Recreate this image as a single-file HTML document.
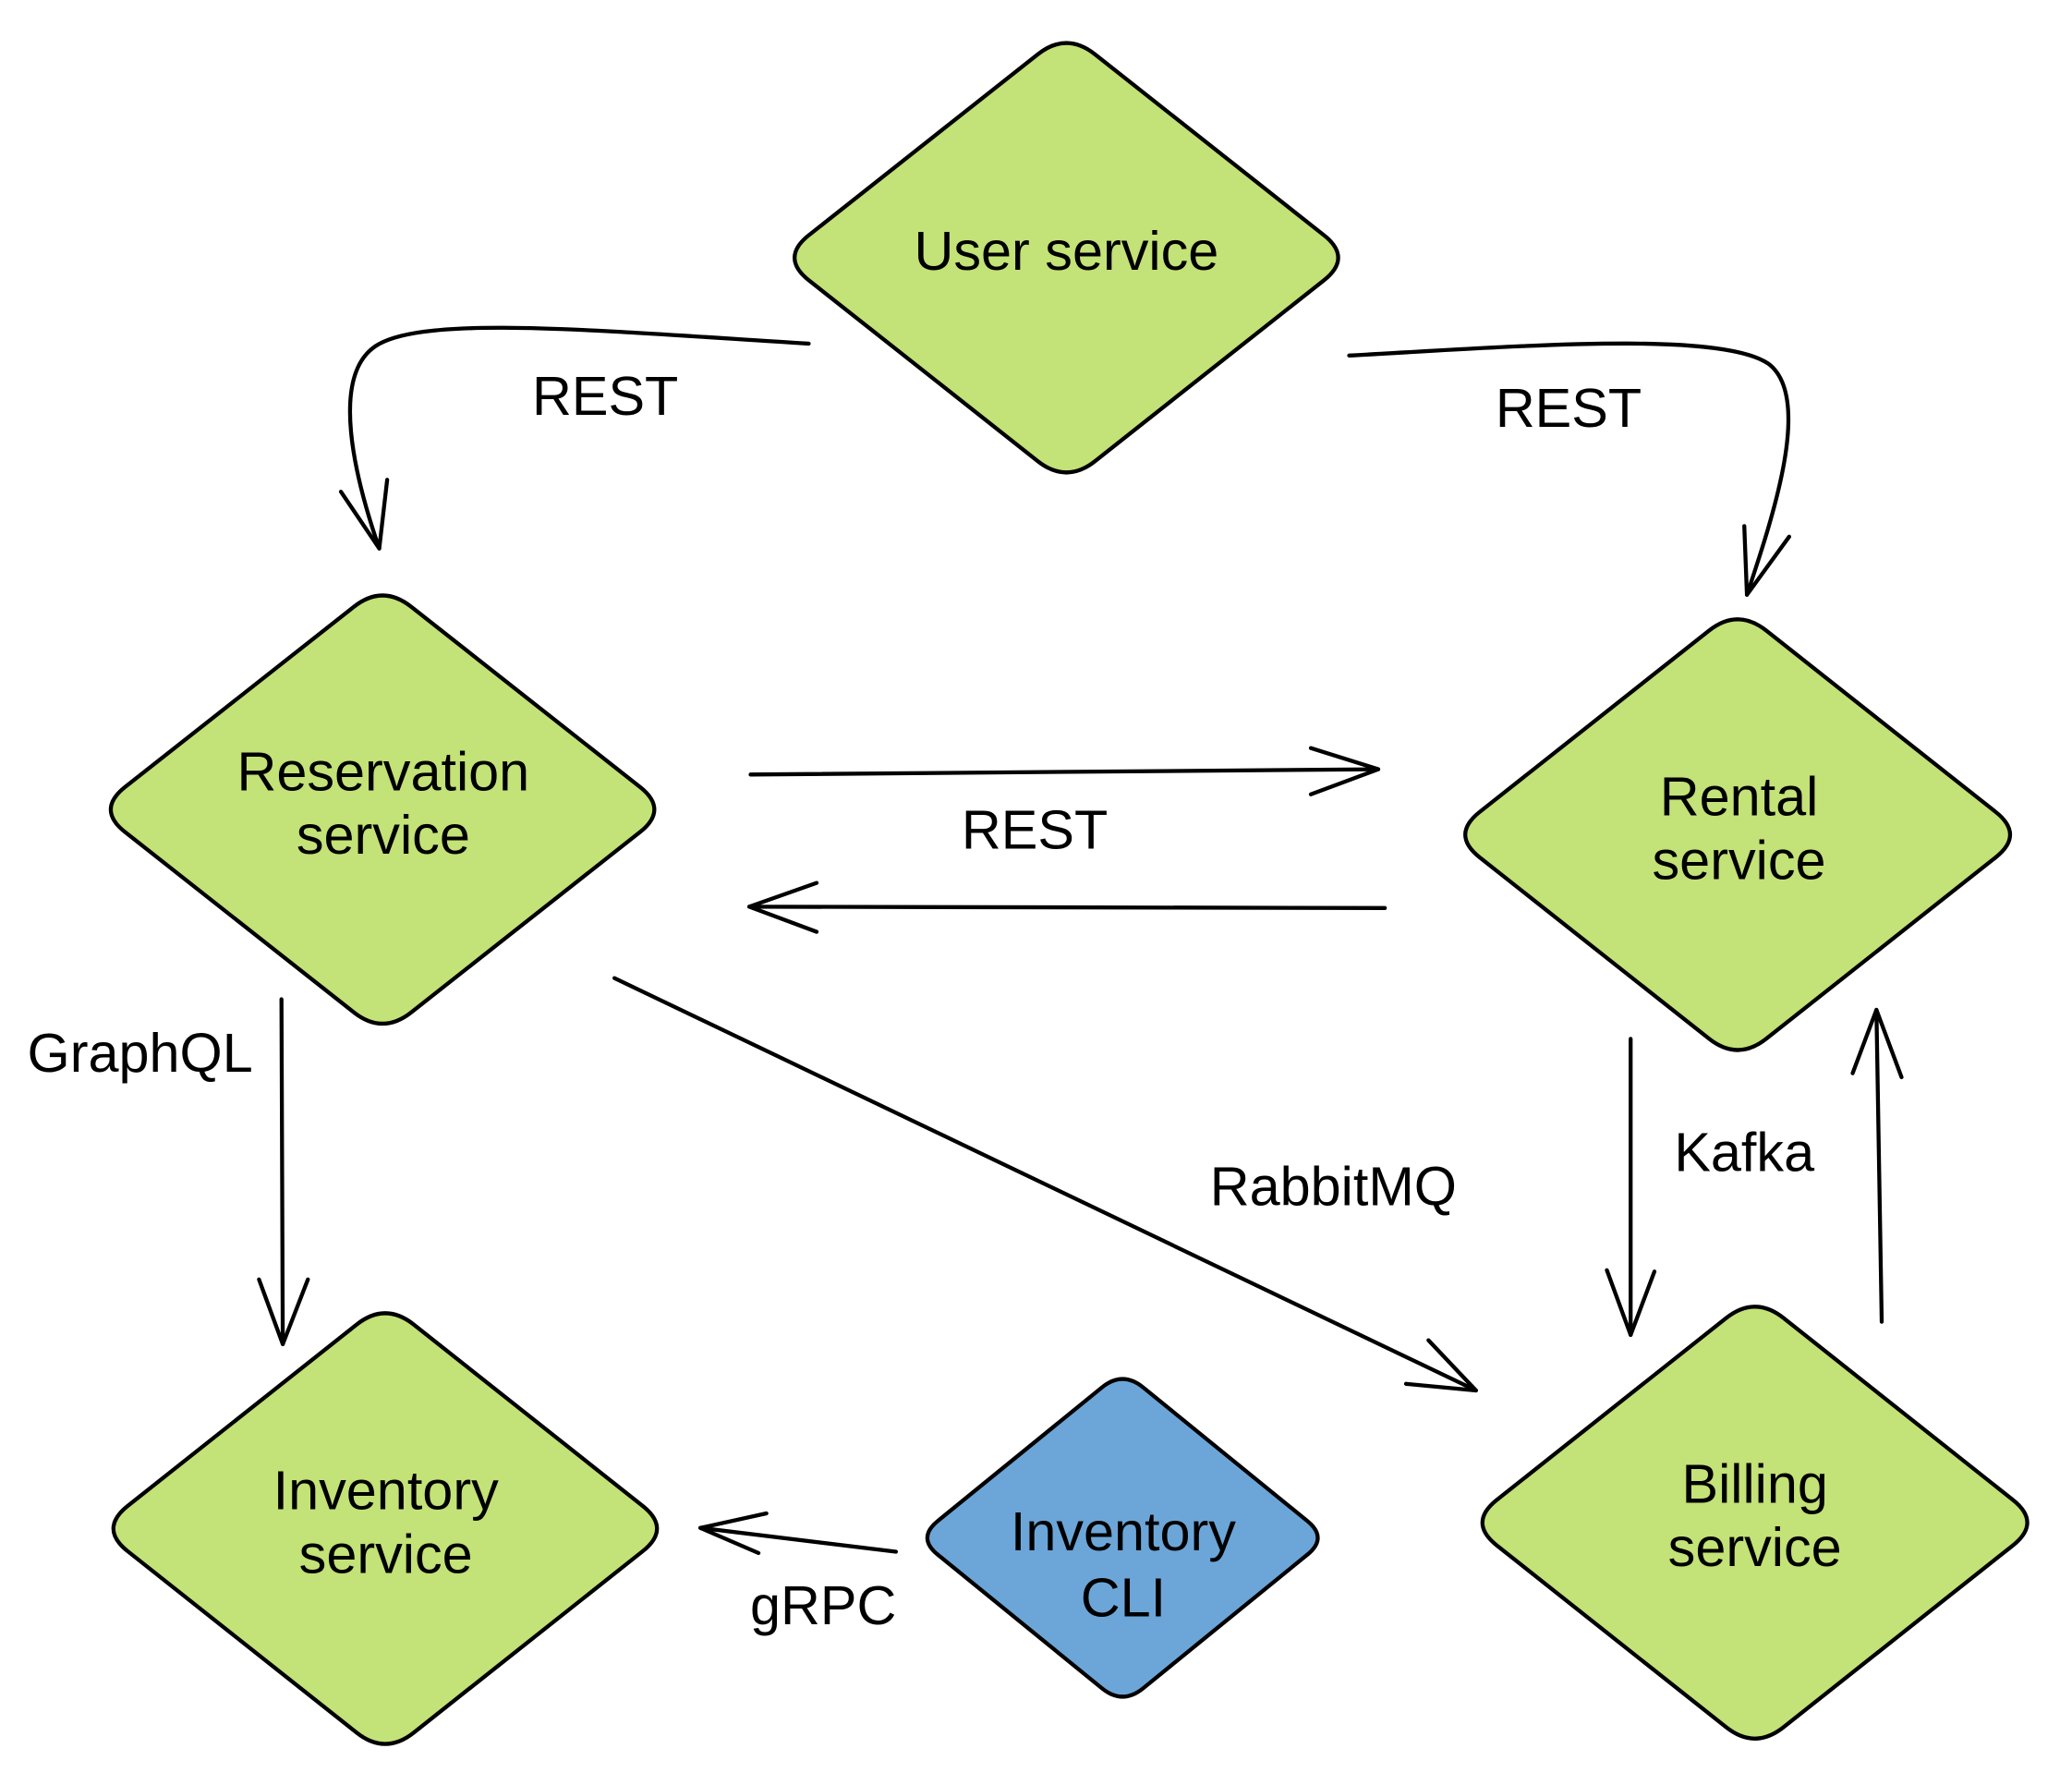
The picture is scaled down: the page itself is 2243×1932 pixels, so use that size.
<!DOCTYPE html>
<html><head><meta charset="utf-8"><style>
html,body{margin:0;padding:0;background:#fff;}
svg{display:block}
text{font-family:"Liberation Sans",sans-serif;font-size:41.5px;fill:#000;text-anchor:middle;dominant-baseline:middle}
</style></head><body>
<svg width="2243" height="1932" viewBox="0 0 1568 1350.5" preserveAspectRatio="none" xmlns="http://www.w3.org/2000/svg">
<g stroke="#000" stroke-width="3" stroke-linejoin="round" stroke-linecap="round">
<path fill="#c3e277" d="M828.65,41.1 L1001.85,177.9 Q1023.5,195 1001.85,212.1 L828.65,348.9 Q807,366 785.35,348.9 L612.15,212.1 Q590.5,195 612.15,177.9 L785.35,41.1 Q807,24 828.65,41.1Z"/>
<path fill="#c3e277" d="M311.15,459.05 L484.35,595.45 Q506,612.5 484.35,629.55 L311.15,765.95 Q289.5,783 267.85,765.95 L94.65,629.55 Q73,612.5 94.65,595.45 L267.85,459.05 Q289.5,442 311.15,459.05Z"/>
<path fill="#c3e277" d="M1336.7,477.15 L1510.3,614.35 Q1532,631.5 1510.3,648.65 L1336.7,785.85 Q1315,803 1293.3,785.85 L1119.7,648.65 Q1098,631.5 1119.7,614.35 L1293.3,477.15 Q1315,460 1336.7,477.15Z"/>
<path fill="#c3e277" d="M313.15,1002.15 L486.35,1139.35 Q508,1156.5 486.35,1173.65 L313.15,1310.85 Q291.5,1328 269.85,1310.85 L96.65,1173.65 Q75,1156.5 96.65,1139.35 L269.85,1002.15 Q291.5,985 313.15,1002.15Z"/>
<path fill="#c3e277" d="M1349.7,997.2 L1523.3,1134.8 Q1545,1152 1523.3,1169.2 L1349.7,1306.8 Q1328,1324 1306.3,1306.8 L1132.7,1169.2 Q1111,1152 1132.7,1134.8 L1306.3,997.2 Q1328,980 1349.7,997.2Z"/>
<path fill="#6ca6d8" d="M865.05,1049.65 L989.45,1150.85 Q1005,1163.5 989.45,1176.15 L865.05,1277.35 Q849.5,1290 833.95,1277.35 L709.55,1176.15 Q694,1163.5 709.55,1150.85 L833.95,1049.65 Q849.5,1037 865.05,1049.65Z"/>
<g fill="none">
<path d="M612,260 C450,250 320,238 284,262 C250,285 268,360 287,415"/>
<path d="M258,372 L287,415 L293,363"/>
<path d="M1021,269 C1150,262 1300,250 1338,275 C1372,300 1342,390 1322,450"/>
<path d="M1320,398 L1322,450 L1354,406"/>
<path d="M568,586 L1043,582"/>
<path d="M992,566 L1043,582 L992,601"/>
<path d="M1048,687 L567,686"/>
<path d="M618,668 L567,686 L618,705"/>
<path d="M213,756 L214,1017"/>
<path d="M196,968 L214,1017 L233,968"/>
<path d="M465,740 L1117,1052"/>
<path d="M1064,1047 L1117,1052 L1081,1014"/>
<path d="M1234,786 L1234,1010"/>
<path d="M1216,961 L1234,1010 L1252,962"/>
<path d="M1424,1000 L1420,764"/>
<path d="M1402,812 L1420,764 L1439,815"/>
<path d="M678,1174 L530,1156"/>
<path d="M580,1145 L530,1156 L574,1175"/>
</g>
</g>
<text x="807" y="193">User service</text>
<text x="290" y="587">Reservation</text>
<text x="290" y="635">service</text>
<text x="1316" y="606">Rental</text>
<text x="1316" y="654">service</text>
<text x="292" y="1131">Inventory</text>
<text x="292" y="1179">service</text>
<text x="1328" y="1126">Billing</text>
<text x="1328" y="1174">service</text>
<text x="850" y="1162">Inventory</text>
<text x="850" y="1212">CLI</text>
<text x="458" y="303">REST</text>
<text x="1187" y="312">REST</text>
<text x="783" y="631">REST</text>
<text x="106" y="800">GraphQL</text>
<text x="1009" y="901">RabbitMQ</text>
<text x="1320" y="875">Kafka</text>
<text x="623" y="1218">gRPC</text>
</svg>
</body></html>
